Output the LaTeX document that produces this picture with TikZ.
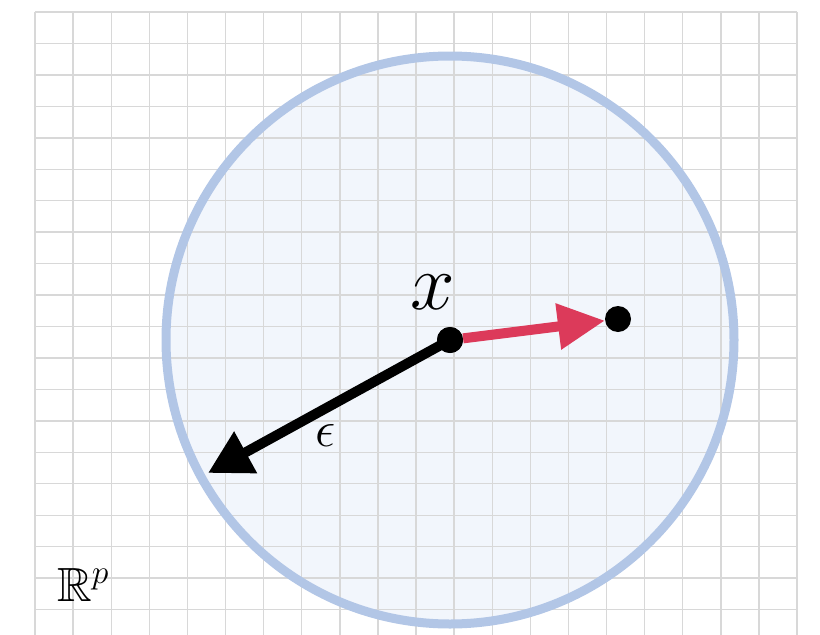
\documentclass[tikz,border=0pt]{standalone}
\usepackage{fix-cm}
\usepackage{amssymb}
\usetikzlibrary{arrows.meta}
\definecolor{ballblue}{RGB}{178,198,230}
\definecolor{ballfill}{RGB}{242,246,252}
\definecolor{gridgray}{RGB}{216,216,216}
\definecolor{vecred}{RGB}{220,58,90}
\tikzset{gridline/.style={gridgray,line width=1.4pt}}
\tikzset{ballline/.style={ballblue,line width=9pt}}
\tikzset{dot/.style={circle,fill=black,inner sep=0pt,minimum size=26pt}}
\tikzset{radline/.style={line width=10pt,
    -{Triangle[length=43pt,width=45pt]}}}
\tikzset{moveline/.style={vecred,line width=10pt,
    -{Triangle[length=47pt,width=44pt]}}}
\begin{document}
\begin{tikzpicture}[x=1pt,y=-1pt]

\pgfmathsetmacro{\xmin}{35}
\pgfmathsetmacro{\xmax}{797}
\pgfmathsetmacro{\ymin}{12}
\pgfmathsetmacro{\ymax}{640}
\pgfmathsetmacro{\dx}{38.1}
\pgfmathsetmacro{\dy}{31.45}

\pgfmathsetmacro{\cx}{450}
\pgfmathsetmacro{\cy}{340}
\pgfmathsetmacro{\R}{284}

\useasboundingbox (0,0) rectangle (820,635);

\begin{scope}\clip (0,0) rectangle (820,635);

    %   球の塗り
    \fill[ballfill] (\cx,\cy) circle (\R);

    %   方眼
    \foreach \i in {0,...,20}
        \draw[gridline] (\xmin+\i*\dx,\ymin) -- (\xmin+\i*\dx,\ymax);
    \foreach \j in {0,...,20}
        \draw[gridline] (\xmin,\ymin+\j*\dy) -- (\xmax,\ymin+\j*\dy);

    %   球の境界
    \draw[ballline] (\cx,\cy) circle (\R);

    %   点
    \node[dot] (x) at (\cx,\cy) {};
    \node[dot] (y) at (618,319) {};
    \coordinate (e) at (208,473);

    %   半径と移動
    \draw[radline] (x.center) -- (e);
    \draw[moveline] (x) -- (y);
    \node[dot] at (x) {};

    %   ラベル
    \node (xlabel) at (433,292) {\fontsize{80}{96}\selectfont $x$};
    \node (elabel) at (326,436) {\fontsize{51}{61}\selectfont $\epsilon$};
    \node[anchor=base west,inner sep=0pt] (space) at (57,601)
        {\fontsize{48}{58}\selectfont $\mathbb{R}^p$};

\end{scope}

\end{tikzpicture}
\end{document}
